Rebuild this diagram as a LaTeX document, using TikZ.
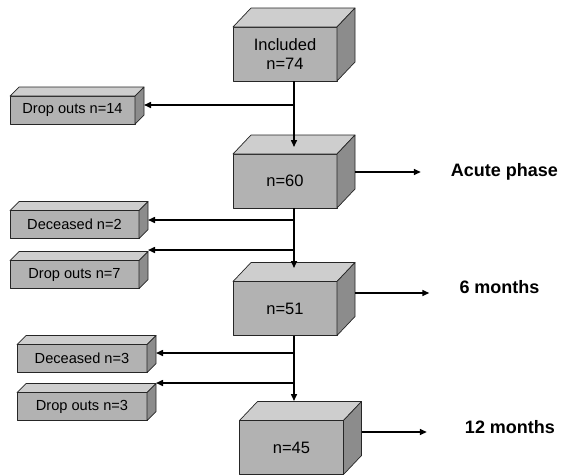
\documentclass[tikz,border=0pt]{standalone}
\usepackage{fontspec}
\setmainfont{Liberation Sans}
\usetikzlibrary{arrows.meta}

\definecolor{frontGray}{RGB}{178,178,178}
\definecolor{topGray}{RGB}{206,206,206}
\definecolor{sideGray}{RGB}{140,140,140}

\newcommand{\connectorWidth}{1.5pt}
\newcommand{\spineX}{294}
\newcommand{\mainDepthX}{18}
\newcommand{\mainDepthY}{-19}
\newcommand{\sideDepthX}{9}
\newcommand{\sideDepthY}{-9}

% top and right faces behind a front node
\newcommand{\boxFaces}[3]{%
  \draw[faceLine, fill=topGray] (#1.north west) -- ++(#2,#3) -- ([shift={(#2,#3)}]#1.north east) -- (#1.north east) -- cycle;
  \draw[faceLine, fill=sideGray] (#1.north east) -- ++(#2,#3) -- ([shift={(#2,#3)}]#1.south east) -- (#1.south east) -- cycle;
}

\tikzset{
  faceLine/.style={line width=0.7pt, draw=black!85, line join=round},
  mainBox/.style={faceLine, fill=frontGray, minimum width=104pt, minimum height=54pt,
    inner sep=0pt, outer sep=0pt, align=center, font=\fontsize{16.5}{19}\selectfont},
  sideBox/.style={faceLine, fill=frontGray, minimum width=129pt, minimum height=28pt,
    inner sep=0pt, outer sep=0pt, font=\fontsize{14.6}{17}\selectfont},
  phaseLabel/.style={inner sep=0pt, font=\bfseries\fontsize{18}{21}\selectfont},
  flow/.style={line width=\connectorWidth, -{Triangle[length=7pt,width=6pt]}},
  spineLine/.style={line width=\connectorWidth}
}

\begin{document}
\begin{tikzpicture}[x=1pt,y=-1pt]
        \useasboundingbox (0,0) rectangle (568,475);

        % Main boxes
        \node[mainBox] (incl) at (285,54) {Included\\n=74};
        \boxFaces{incl}{\mainDepthX}{\mainDepthY}
        \node[mainBox] (acute) at (285,181) {n=60};
        \boxFaces{acute}{\mainDepthX}{\mainDepthY}
        \node[mainBox] (sixm) at (285,308.5) {n=51};
        \boxFaces{sixm}{\mainDepthX}{\mainDepthY}
        \node[mainBox] (twelvem) at (291.5,447.5) {n=45};
        \boxFaces{twelvem}{\mainDepthX}{\mainDepthY}

        % Side boxes
        \node[sideBox, minimum width=125pt] (drop1) at (72.5,110) {Drop outs n=14};
        \boxFaces{drop1}{\sideDepthX}{\sideDepthY}
        \node[sideBox] (dec1) at (74.5,224.5) {Deceased n=2};
        \boxFaces{dec1}{\sideDepthX}{\sideDepthY}
        \node[sideBox] (drop2) at (74.5,274.5) {Drop outs n=7};
        \boxFaces{drop2}{\sideDepthX}{\sideDepthY}
        \node[sideBox, minimum width=130pt] (dec2) at (82,358.5) {Deceased n=3};
        \boxFaces{dec2}{\sideDepthX}{\sideDepthY}
        \node[sideBox, minimum width=130pt] (drop3) at (82,406.5) {Drop outs n=3};
        \boxFaces{drop3}{\sideDepthX}{\sideDepthY}

        % Phase labels
        \node[phaseLabel] (lAcute) at (504.5,172) {Acute phase};
        \node[phaseLabel] (lSix) at (499.5,287) {6 months};
        \node[phaseLabel] (lTwelve) at (510,427) {12 months};

        % Points on the spine and behind the side boxes
        \coordinate (spine) at (\spineX,0);
        \coordinate (in2) at (\spineX,147);
        \coordinate (in3) at (\spineX,268);
        \coordinate (in4) at (\spineX,401);
        \coordinate (j1) at (\spineX,105);
        \coordinate (j2) at (\spineX,220);
        \coordinate (j3) at (\spineX,250);
        \coordinate (j4) at (\spineX,353);
        \coordinate (j5) at (\spineX,383);
        \coordinate (drop1back) at ([xshift=\sideDepthX pt]drop1.east);
        \coordinate (dec1back) at ([xshift=\sideDepthX pt]dec1.east);
        \coordinate (drop2back) at ([xshift=\sideDepthX pt]drop2.east);
        \coordinate (dec2back) at ([xshift=\sideDepthX pt]dec2.east);
        \coordinate (drop3back) at ([xshift=\sideDepthX pt]drop3.east);
        \coordinate (o2) at ([shift={(\mainDepthX,-9)}]acute.east);
        \coordinate (o3) at ([shift={(\mainDepthX,-15.5)}]sixm.east);
        \coordinate (o4) at ([shift={(\mainDepthX,-15.5)}]twelvem.east);

        % Draw spine
        \draw[flow] (incl.south -| spine) -- (in2);
        \draw[flow] (acute.south -| spine) -- (in3);
        \draw[flow] (sixm.south -| spine) -- (in4);

        % Draw losses
        \draw[flow] (j1) -- (j1 -| drop1back);
        \draw[flow] (j2) -- (j2 -| dec1back);
        \draw[flow] (j3) -- (j3 -| drop2back);
        \draw[flow] (j4) -- (j4 -| dec2back);
        \draw[flow] (j5) -- (j5 -| drop3back);

        % Draw phase arrows
        \draw[flow, shorten >=30pt] (o2) -- (o2 -| lAcute.west);
        \draw[flow, shorten >=30pt] (o3) -- (o3 -| lSix.west);
        \draw[flow, shorten >=38pt] (o4) -- (o4 -| lTwelve.west);
    \end{tikzpicture}
\end{document}
